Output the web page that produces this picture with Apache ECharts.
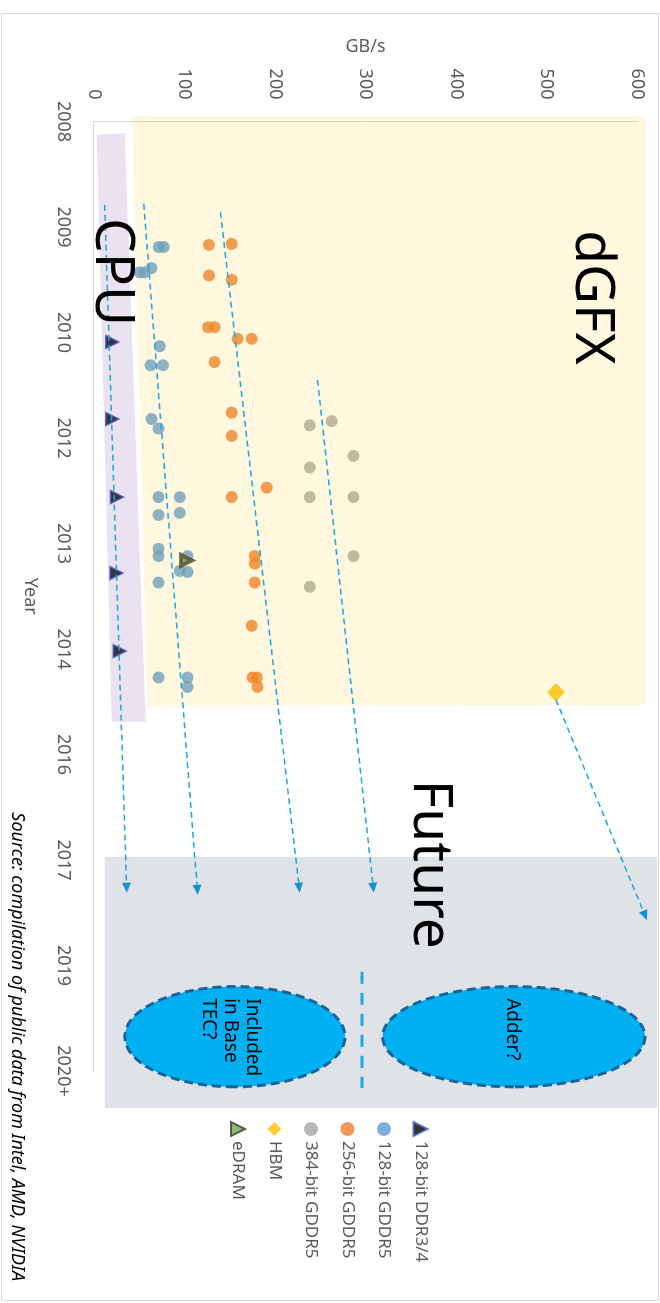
<!DOCTYPE html>
<html>
<head>
<meta charset="utf-8">
<script src="https://cdn.jsdelivr.net/npm/echarts@6/dist/echarts.min.js"></script>
<style>
  html, body { margin: 0; padding: 0; width: 660px; height: 1303px; overflow: hidden; background: #fff; }
  /* the chart is laid out landscape and turned a quarter clockwise onto the portrait page */
  #chart { position: absolute; left: 0; top: 0; width: 1303px; height: 660px;
           transform-origin: 0 0; transform: translate(660px, 0) rotate(90deg); }
</style>
</head>
<body>
<div id="chart"></div>
<script>
// ---- data: points are [year-axis position, bandwidth GB/s] ----
const yearLabels = ['2008', '2009', '2010', '2012', '2013', '2014', '2016', '2017', '2019', '2020+'];

const ddr34 = [[2.09, 20.3], [2.82, 20.3], [3.56, 25.4], [4.28, 24.8], [5.02, 28.4]];

const gddr5_128 = [
  [1.19, 71.5], [1.19, 77.1], [1.39, 63.5], [1.43, 50.5], [1.43, 56.1],
  [2.13, 72.6], [2.31, 62.4], [2.31, 76.3], [2.82, 63.5], [2.91, 71.2],
  [3.56, 71.2], [3.56, 94.8], [3.73, 71.2], [3.71, 94.8], [4.05, 71.2],
  [4.12, 71.2], [4.12, 103.3], [4.26, 94.8], [4.27, 103.3], [4.37, 71.2],
  [5.27, 71.2], [5.27, 103.3], [5.36, 103.3]
];

const gddr5_256 = [
  [1.17, 127.1], [1.16, 152.2], [1.46, 127.1], [1.50, 152.2], [1.95, 126.0],
  [1.95, 133.4], [2.06, 158.5], [2.06, 174.4], [2.28, 133.1], [2.76, 152.2],
  [2.98, 152.2], [3.47, 190.9], [3.56, 152.2], [4.12, 177.7], [4.19, 177.7],
  [4.37, 177.7], [4.78, 174.4], [5.27, 175.1], [5.27, 180.0], [5.36, 180.6]
];

const gddr5_384 = [
  [2.88, 238.5], [2.84, 262.8], [3.17, 286.8], [3.28, 238.5],
  [3.56, 238.5], [3.56, 286.8], [4.12, 286.8], [4.41, 238.5]
];

const hbm = [[5.41, 510.4]];
const edram = [[4.16, 102.2]];

const seriesNames = ['128-bit DDR3/4', '128-bit GDDR5', '256-bit GDDR5', '384-bit GDDR5', 'HBM', 'eDRAM'];

// ---- annotation geometry, in the same axis units ----
const dgfxRegion = [[-0.05, 41.7], [-0.05, 608.8], [5.53, 608.8], [5.54, 59.4]];
const cpuBand = [[0.128, 3.0], [0.109, 34.0], [5.69, 57.2], [5.69, 19.6]];
const futureRegion = [[6.97, 11.9], [9.35, 622.4]];
const trendArrows = [
  [[0.79, 11.8], [7.31, 36.2]],
  [[0.78, 55.0], [7.33, 114.6]],
  [[0.86, 139.7], [7.31, 227.4]],
  [[2.45, 247.0], [7.31, 309.2]],
  [[5.48, 510.4], [7.57, 611.0]]
];
const ovals = [
  { box: [[8.20, 34.1], [9.15, 277.3]], text: 'Included\nin Base\nTEC?', at: [8.31, 151.1] },
  { box: [[8.20, 319.0], [9.15, 608.8]], text: 'Adder?', at: [8.31, 461.8] }
];
const divider = [[8.06, 296.0], [9.16, 296.0]];
const regionLabels = [
  { text: 'dGFX', at: [1.03, 550.0] },
  { text: 'CPU', at: [0.915, 19.0] },
  { text: 'Future', at: [6.24, 370.6] }
];

const FONT = "'Noto Sans', 'Open Sans', sans-serif";
const GREY_TEXT = '#595959';

const chart = echarts.init(document.getElementById('chart'), null, { renderer: 'canvas' });

function overlayItem(params, api) {
  const c = p => api.coord(p);
  const children = [];
  const f0 = c(futureRegion[0]), f1 = c(futureRegion[1]);
  children.push({
    type: 'rect',
    shape: { x: Math.min(f0[0], f1[0]), y: Math.min(f0[1], f1[1]),
             width: Math.abs(f1[0] - f0[0]), height: Math.abs(f1[1] - f0[1]) },
    style: { fill: '#DFE2E6' }
  });
  children.push({ type: 'polygon', shape: { points: dgfxRegion.map(c) },
                  style: { fill: 'rgba(255,192,0,0.13)' } });
  children.push({ type: 'polygon', shape: { points: cpuBand.map(c) },
                  style: { fill: 'rgba(112,48,160,0.145)' } });
  return { type: 'group', children: children };
}

function annotationItem(params, api) {
  const c = p => api.coord(p);
  const children = [];

  trendArrows.forEach(function (seg) {
    const a = c(seg[0]), b = c(seg[1]);
    const dx = b[0] - a[0], dy = b[1] - a[1];
    const L = Math.hypot(dx, dy);
    const ux = dx / L, uy = dy / L, nx = -uy, ny = ux;
    const hl = 10, hw = 4.5;
    const base = [b[0] - ux * hl, b[1] - uy * hl];
    children.push({ type: 'line',
      shape: { x1: a[0], y1: a[1], x2: base[0], y2: base[1] },
      style: { stroke: '#1AA6E2', lineWidth: 1.5, lineDash: [6, 4] } });
    children.push({ type: 'polygon',
      shape: { points: [b, [base[0] + nx * hw, base[1] + ny * hw], [base[0] - nx * hw, base[1] - ny * hw]] },
      style: { fill: '#1592D2' } });
  });

  ovals.forEach(function (o) {
    const p0 = c(o.box[0]), p1 = c(o.box[1]);
    const cx = (p0[0] + p1[0]) / 2, cy = (p0[1] + p1[1]) / 2;
    const rx = Math.abs(p1[0] - p0[0]) / 2, ry = Math.abs(p1[1] - p0[1]) / 2;
    const pts = [];
    for (let i = 0; i < 180; i++) {
      const t = i / 180 * Math.PI * 2;
      pts.push([cx + rx * Math.cos(t), cy + ry * Math.sin(t)]);
    }
    children.push({ type: 'polygon', shape: { points: pts },
      style: { fill: '#00B0F0', stroke: '#16649C', lineWidth: 3, lineDash: [9, 5] } });
    const tp = c(o.at);
    children.push({ type: 'text', x: tp[0], y: tp[1],
      style: { text: o.text, fill: '#000', fontSize: 19, fontFamily: FONT, lineHeight: 22,
               align: 'left', verticalAlign: 'middle' } });
  });

  const d0 = c(divider[0]), d1 = c(divider[1]);
  children.push({ type: 'line', shape: { x1: d0[0], y1: d0[1], x2: d1[0], y2: d1[1] },
    style: { stroke: '#19A9E6', lineWidth: 3, lineDash: [12, 9] } });

  regionLabels.forEach(function (r) {
    const p = c(r.at);
    children.push({ type: 'text', x: p[0], y: p[1],
      style: { text: r.text, fill: '#000', fontSize: 55, fontFamily: FONT,
               align: 'left', verticalAlign: 'middle' } });
  });
  return { type: 'group', children: children };
}

const option = {
  animation: false,
  backgroundColor: '#fff',
  title: {
    text: 'Source: compilation of public data from Intel, AMD, NVIDIA',
    right: 22, top: 634, padding: 0,
    textStyle: { fontStyle: 'italic', fontWeight: 'normal', fontSize: 18, color: '#000', fontFamily: FONT }
  },
  graphic: [{
    type: 'rect', silent: true, z: -10,
    shape: { x: 13.5, y: 1.5, width: 1287, height: 657 },
    style: { fill: null, stroke: '#D9D9D9', lineWidth: 1 }
  }],
  legend: {
    orient: 'vertical', left: 1121, top: 231, padding: 0,
    itemWidth: 14, itemHeight: 14, itemGap: 19.5,
    data: seriesNames,
    textStyle: { fontSize: 17, color: GREY_TEXT, fontFamily: FONT }
  },
  grid: { left: 121.5, right: 232, top: 23, bottom: 94, containLabel: false },
  xAxis: {
    type: 'value', min: 0, max: 9, interval: 1,
    name: 'Year', nameLocation: 'middle', nameGap: 55,
    nameTextStyle: { fontSize: 18, color: GREY_TEXT, fontFamily: FONT },
    axisLine: { show: true, lineStyle: { color: '#D9D9D9', width: 1 } },
    axisTick: { show: false },
    splitLine: { show: false },
    axisLabel: { margin: 22, fontSize: 18, color: GREY_TEXT, fontFamily: FONT,
                 formatter: v => yearLabels[Math.round(v)] }
  },
  yAxis: {
    type: 'value', min: 0, max: 600, interval: 100,
    name: 'GB/s', nameLocation: 'middle', nameGap: 66, nameRotate: 90,
    nameTextStyle: { fontSize: 18, color: GREY_TEXT, fontFamily: FONT },
    axisLine: { show: true, lineStyle: { color: '#D9D9D9', width: 1 } },
    axisTick: { show: false },
    splitLine: { show: false },
    axisLabel: { margin: 22, fontSize: 18, color: GREY_TEXT, fontFamily: FONT }
  },
  series: [
    { name: seriesNames[0], type: 'scatter', data: ddr34, symbol: 'triangle', symbolSize: 13,
      itemStyle: { color: '#000000', borderColor: '#3F63C8', borderWidth: 1.5 } },
    { name: seriesNames[1], type: 'scatter', data: gddr5_128, symbol: 'circle', symbolSize: 12,
      itemStyle: { color: '#5B9BD5' } },
    { name: seriesNames[2], type: 'scatter', data: gddr5_256, symbol: 'circle', symbolSize: 12,
      itemStyle: { color: '#ED7D31' } },
    { name: seriesNames[3], type: 'scatter', data: gddr5_384, symbol: 'circle', symbolSize: 12,
      itemStyle: { color: '#A5A5A5' } },
    { name: seriesNames[4], type: 'scatter', data: hbm, symbol: 'diamond', symbolSize: 18,
      itemStyle: { color: '#FFC000' } },
    { name: seriesNames[5], type: 'scatter', data: edram, symbol: 'triangle', symbolSize: 11,
      itemStyle: { color: '#70AD47', borderColor: '#3A3D3A', borderWidth: 4 } },
    { type: 'custom', z: 3, silent: true, data: [[0, 0]], renderItem: overlayItem, clip: false },
    { type: 'custom', z: 4, silent: true, data: [[0, 0]], renderItem: annotationItem, clip: false }
  ]
};

chart.setOption(option);
</script>
</body>
</html>
